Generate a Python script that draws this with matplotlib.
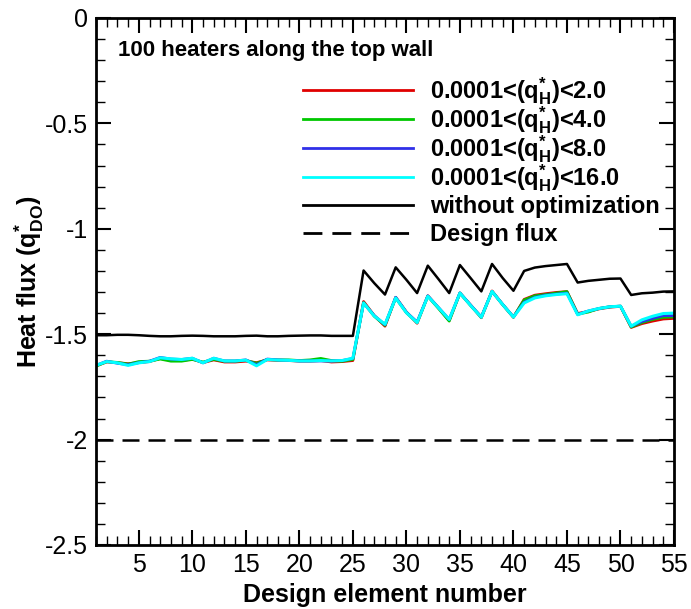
import numpy as np
import matplotlib
matplotlib.use("Agg")
import matplotlib.pyplot as plt
from matplotlib import ticker

plt.rcParams['font.family'] = ['Liberation Sans', 'DejaVu Sans']
plt.rcParams['mathtext.fontset'] = 'custom'
plt.rcParams['mathtext.rm'] = 'Liberation Sans:bold'
plt.rcParams['mathtext.it'] = 'Liberation Sans:bold'
plt.rcParams['mathtext.bf'] = 'Liberation Sans:bold'
plt.rcParams['axes.unicode_minus'] = False

# design element numbers
elements = np.arange(1, 56)

# optimized heat flux, four bounds on q_H
q_2 = [-1.650, -1.632, -1.635, -1.640, -1.635, -1.630, -1.615, -1.622, -1.625, -1.618,
       -1.635, -1.622, -1.632, -1.632, -1.628, -1.635, -1.622, -1.625, -1.625, -1.628,
       -1.628, -1.625, -1.632, -1.630, -1.625, -1.345, -1.412, -1.462, -1.325, -1.395,
       -1.448, -1.318, -1.375, -1.435, -1.305, -1.362, -1.422, -1.295, -1.360, -1.420,
       -1.335, -1.315, -1.308, -1.302, -1.298, -1.402, -1.392, -1.380, -1.372, -1.368,
       -1.468, -1.450, -1.438, -1.428, -1.425]
q_4 = [-1.652, -1.630, -1.634, -1.642, -1.630, -1.628, -1.618, -1.628, -1.628, -1.620,
       -1.632, -1.620, -1.628, -1.628, -1.624, -1.638, -1.620, -1.622, -1.622, -1.625,
       -1.622, -1.615, -1.625, -1.628, -1.620, -1.350, -1.415, -1.458, -1.328, -1.398,
       -1.445, -1.320, -1.378, -1.438, -1.305, -1.364, -1.420, -1.297, -1.360, -1.419,
       -1.338, -1.318, -1.312, -1.305, -1.298, -1.405, -1.395, -1.378, -1.370, -1.367,
       -1.466, -1.445, -1.430, -1.420, -1.418]
q_8 = [-1.648, -1.628, -1.638, -1.645, -1.635, -1.628, -1.610, -1.618, -1.620, -1.614,
       -1.636, -1.614, -1.627, -1.627, -1.622, -1.645, -1.618, -1.622, -1.624, -1.627,
       -1.627, -1.627, -1.627, -1.625, -1.615, -1.352, -1.412, -1.455, -1.325, -1.396,
       -1.442, -1.318, -1.374, -1.430, -1.304, -1.362, -1.418, -1.297, -1.359, -1.418,
       -1.348, -1.325, -1.315, -1.310, -1.305, -1.406, -1.390, -1.378, -1.370, -1.367,
       -1.462, -1.440, -1.425, -1.412, -1.412]
q_16 = [-1.648, -1.630, -1.636, -1.648, -1.636, -1.630, -1.612, -1.617, -1.620, -1.614,
        -1.636, -1.614, -1.627, -1.627, -1.623, -1.650, -1.620, -1.623, -1.624, -1.627,
        -1.627, -1.625, -1.627, -1.625, -1.614, -1.352, -1.414, -1.453, -1.328, -1.398,
        -1.445, -1.320, -1.375, -1.430, -1.305, -1.364, -1.420, -1.297, -1.360, -1.419,
        -1.352, -1.328, -1.318, -1.312, -1.308, -1.408, -1.390, -1.378, -1.370, -1.367,
        -1.462, -1.432, -1.415, -1.402, -1.400]
# heat flux without optimization
q_none = [-1.505, -1.505, -1.503, -1.503, -1.505, -1.508, -1.510, -1.510, -1.508, -1.507,
          -1.508, -1.510, -1.510, -1.510, -1.508, -1.507, -1.510, -1.510, -1.508, -1.507,
          -1.506, -1.506, -1.508, -1.508, -1.508, -1.198, -1.258, -1.312, -1.183, -1.242,
          -1.305, -1.175, -1.239, -1.305, -1.172, -1.234, -1.297, -1.167, -1.234, -1.294,
          -1.200, -1.184, -1.177, -1.172, -1.167, -1.255, -1.247, -1.242, -1.237, -1.236,
          -1.314, -1.306, -1.303, -1.298, -1.297]
design_flux = -2.0

labels = [r'0.0001<(q$_{\mathrm{H}}^{*}$)<2.0', r'0.0001<(q$_{\mathrm{H}}^{*}$)<4.0',
          r'0.0001<(q$_{\mathrm{H}}^{*}$)<8.0', r'0.0001<(q$_{\mathrm{H}}^{*}$)<16.0',
          'without optimization', 'Design flux']
colors = ['#e00000', '#00c800', '#3030e8', '#00ffff', 'black', 'black']

dash = (0, (6.8, 3.6))

fig = plt.figure(figsize=(6.91, 6.09), dpi=100)
ax = fig.add_axes([0.1389, 0.1051, 0.8365, 0.8654])

ax.plot(elements, q_2, color=colors[0], lw=2.0)
ax.plot(elements, q_4, color=colors[1], lw=2.0)
ax.plot(elements, q_8, color=colors[2], lw=2.0)
ax.plot(elements, q_16, color=colors[3], lw=2.2)
ax.plot(elements, q_none, color=colors[4], lw=1.8)
ax.axhline(design_flux, color='black', lw=1.8, linestyle=dash)

ax.set_xlim(1, 55)
ax.set_ylim(-2.5, 0)
ax.xaxis.set_major_locator(ticker.MultipleLocator(5))
ax.xaxis.set_minor_locator(ticker.MultipleLocator(1))
ax.yaxis.set_major_locator(ticker.MultipleLocator(0.5))
ax.yaxis.set_minor_locator(ticker.MultipleLocator(0.1))
ax.yaxis.set_major_formatter(ticker.FormatStrFormatter('%g'))
ax.xaxis.set_major_formatter(ticker.FuncFormatter(lambda v, p: '' if v < 2 else '%g' % v))

ax.tick_params(which='both', direction='in', top=True, right=True, labelsize=18)
ax.tick_params(which='major', length=11, width=1.5)
ax.tick_params(which='minor', length=6.5, width=1.0)
ax.tick_params(axis='y', pad=6)
ax.tick_params(axis='x', pad=6)
for s in ax.spines.values():
    s.set_linewidth(2.0)

ax.set_xlabel('Design element number', fontsize=18, fontweight='bold', labelpad=4)
ax.set_ylabel(r'Heat flux (q$_{\mathrm{DO}}^{*}$)', fontsize=18, fontweight='bold', labelpad=-1)

ax.text(0.038, 0.939, '100 heaters along the top wall', transform=ax.transAxes,
        fontsize=16, fontweight='bold', va='center')

# legend drawn row by row so the spacing stays even
row_y = [0.863, 0.808, 0.753, 0.698, 0.645, 0.592]
for i in range(6):
    ls = dash if i == 5 else '-'
    ax.plot([0.358, 0.548], [row_y[i], row_y[i]], transform=ax.transAxes,
            color=colors[i], lw=2.0, linestyle=ls, clip_on=False)
    ax.text(0.578, row_y[i] - 0.015, labels[i], transform=ax.transAxes,
            fontsize=17, fontweight='bold', va='baseline')

fig.savefig('out.png', dpi=100)
